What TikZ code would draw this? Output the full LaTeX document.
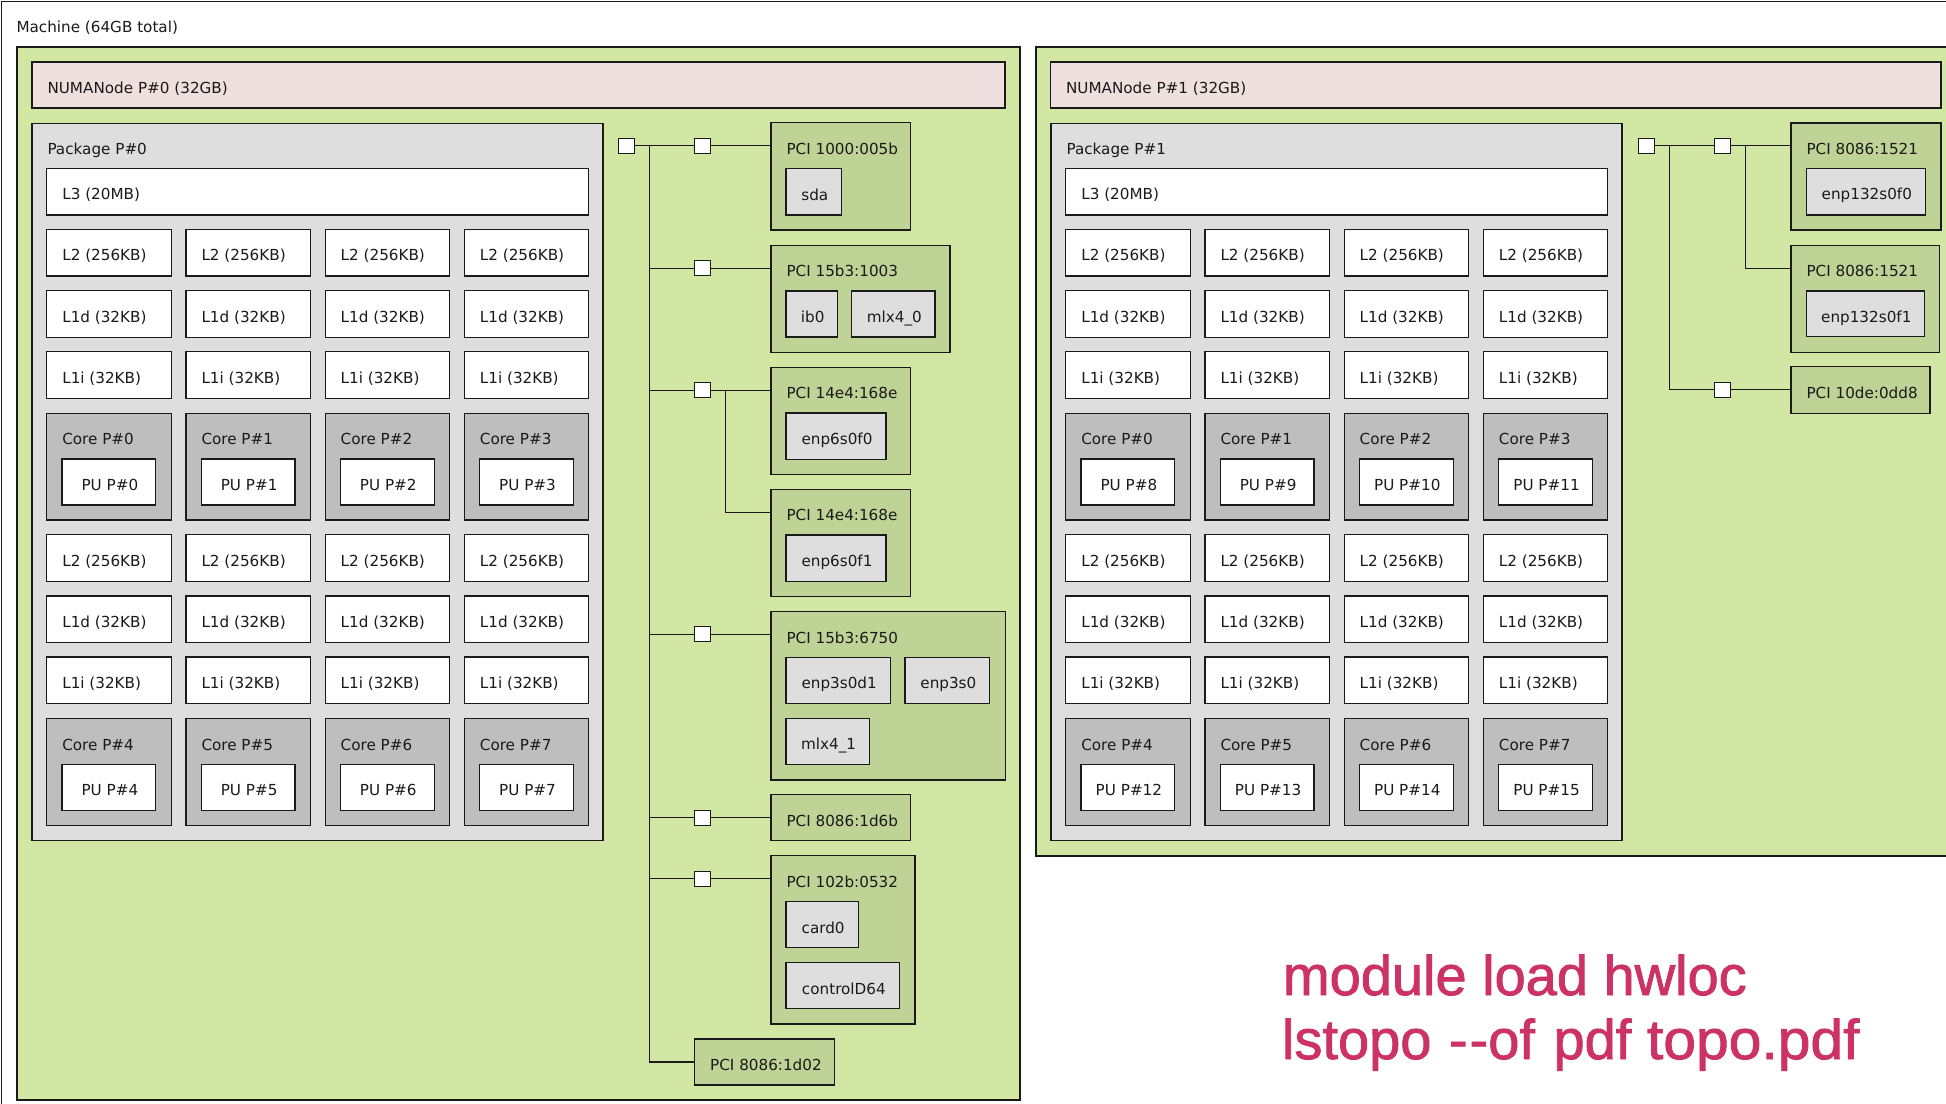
\documentclass[tikz,border=0pt]{standalone}
\usepackage{fontspec}
\usepackage{graphicx}
\setmainfont{DejaVu Sans}
\newfontfamily\cmdfont{Liberation Sans}[FakeBold=1.5]
\usetikzlibrary{calc}

\definecolor{numagreen}{HTML}{D2E7A4}
\definecolor{mempink}{HTML}{EFDFDE}
\definecolor{pkggray}{HTML}{DEDEDE}
\definecolor{coregray}{HTML}{BEBEBE}
\definecolor{pcigreen}{HTML}{BED395}
\definecolor{osgray}{HTML}{DEDEDE}
\definecolor{cmdred}{RGB}{204,51,100}
\definecolor{inkline}{HTML}{1A1A1A}

\tikzset{
  hw/.style={draw=inkline, line width=1.3pt, inner sep=0pt, outer sep=0pt, anchor=north west},
  machinebox/.style={hw, fill=white, line width=1pt},
  numabox/.style={hw, fill=numagreen},
  membox/.style={hw, fill=mempink},
  pkgbox/.style={hw, fill=pkggray},
  cachebox/.style={hw, fill=white},
  corebox/.style={hw, fill=coregray},
  pubox/.style={hw, fill=white},
  pcibox/.style={hw, fill=pcigreen},
  osbox/.style={hw, fill=osgray},
  bridgebox/.style={hw, fill=white, anchor=center, minimum width=16pt, minimum height=15pt},
  lbl/.style={inner sep=0pt, outer sep=0pt, font=\fontsize{15.2}{18}\selectfont, text=inkline},
  wire/.style={draw=inkline, line width=1.3pt},
  cmd/.style={inner sep=0pt, outer sep=0pt, anchor=base west, text=cmdred,
    font=\cmdfont\fontsize{56}{64}\selectfont},
}

% box with a left-aligned title: name, style, x1, y1, x2, y2, text
\newcommand\hwbox[7]{%
  \node[#2, minimum width={((#5)-(#3))*1pt}, minimum height={((#6)-(#4))*1pt}] (#1) at (#3,#4) {};
  \node[lbl, anchor=base west] (#1-t) at ($(#1.north west)+(15.5,31.5)$) {#7};
}
% box with a centred title
\newcommand\hwboxc[7]{%
  \node[#2, minimum width={((#5)-(#3))*1pt}, minimum height={((#6)-(#4))*1pt}] (#1) at (#3,#4) {};
  \node[lbl, anchor=base] (#1-t) at ($(#1.north)+(1,31.5)$) {#7};
}
% box without a title
\newcommand\hwplain[6]{%
  \node[#2, minimum width={((#5)-(#3))*1pt}, minimum height={((#6)-(#4))*1pt}] (#1) at (#3,#4) {};
}

\begin{document}
\begin{tikzpicture}[x=1pt,y=-1pt]
\useasboundingbox (0,0) rectangle (1946,1103);
\clip (0,0) rectangle (1946,1103);
\fill[white] (0,0) rectangle (1946,1103);

% machine and its two NUMA groups
\hwbox{machine}{machinebox}{1}{1}{2100}{1200}{Machine (64GB total)}
\hwplain{numa0}{numabox}{17}{47}{1020}{1100}
\hwplain{numa1}{numabox}{1036}{47}{1980}{856}
\hwbox{mem0}{membox}{32}{62}{1005}{108}{NUMANode P\#0 (32GB)}
\hwbox{mem1}{membox}{1050.5}{62}{1941}{108}{NUMANode P\#1 (32GB)}

% packages, caches, cores and PUs
\foreach \p in {0,1} {
  \pgfmathsetmacro\dx{1019*\p}
  \pgfmathsetmacro\pl{32+\dx}
  \pgfmathsetmacro\pr{603+\dx}
  \hwbox{pkg\p}{pkgbox}{\pl}{123.3}{\pr}{840.5}{Package P\#\p}
  \pgfmathsetmacro\ll{46.8+\dx}
  \pgfmathsetmacro\lr{588.7+\dx}
  \hwbox{l3-\p}{cachebox}{\ll}{168.3}{\lr}{215}{L3 (20MB)}
  \foreach \g in {0,1} {
    \pgfmathsetmacro\gy{229.3+305.3*\g}
    \pgfmathsetmacro\gya{\gy+46.7}
    \pgfmathsetmacro\gyb{\gy+61.3}
    \pgfmathsetmacro\gyc{\gy+108}
    \pgfmathsetmacro\gyd{\gy+122.5}
    \pgfmathsetmacro\gye{\gy+169.2}
    \pgfmathsetmacro\gyf{\gy+184}
    \pgfmathsetmacro\gyg{\gy+290.7}
    \pgfmathsetmacro\gyh{\gy+229.7}
    \pgfmathsetmacro\gyi{\gy+275.7}
    \foreach \i in {0,...,3} {
      \pgfmathsetmacro\cx{46.8+139.2*\i+\dx}
      \pgfmathsetmacro\cr{\cx+124.4}
      \pgfmathsetmacro\ux{\cx+15.2}
      \pgfmathsetmacro\ur{\cx+109}
      \pgfmathtruncatemacro\cn{4*\g+\i}
      \pgfmathtruncatemacro\pn{8*\p+4*\g+\i}
      \hwbox{l2-\p-\g-\i}{cachebox}{\cx}{\gy}{\cr}{\gya}{L2 (256KB)}
      \hwbox{l1d-\p-\g-\i}{cachebox}{\cx}{\gyb}{\cr}{\gyc}{L1d (32KB)}
      \hwbox{l1i-\p-\g-\i}{cachebox}{\cx}{\gyd}{\cr}{\gye}{L1i (32KB)}
      \hwbox{core-\p-\g-\i}{corebox}{\cx}{\gyf}{\cr}{\gyg}{Core P\#\cn}
      \hwboxc{pu-\p-\g-\i}{pubox}{\ux}{\gyh}{\ur}{\gyi}{PU P\#\pn}
    }
  }
}

% I/O tree of NUMA group 0
\hwbox{p1}{pcibox}{771}{122.7}{910.3}{230}{PCI 1000:005b}
\hwboxc{sda}{osbox}{786}{168.7}{841.7}{215}{sda}
\hwbox{p2}{pcibox}{771}{245.3}{950}{352.3}{PCI 15b3:1003}
\hwboxc{ib0}{osbox}{786}{291}{837.3}{337}{ib0}
\hwboxc{mlx40}{osbox}{851.7}{291}{935}{337}{mlx4\_0}
\hwbox{p3}{pcibox}{771}{367.3}{910.3}{474.3}{PCI 14e4:168e}
\hwboxc{eth0}{osbox}{786}{413}{886}{459.3}{enp6s0f0}
\hwbox{p4}{pcibox}{771}{489.3}{910.3}{596.7}{PCI 14e4:168e}
\hwboxc{eth1}{osbox}{786}{535}{886}{581.3}{enp6s0f1}
\hwbox{p5}{pcibox}{771}{611.7}{1005.3}{780}{PCI 15b3:6750}
\hwboxc{eth2}{osbox}{786}{657.3}{890.3}{703.3}{enp3s0d1}
\hwboxc{eth3}{osbox}{905}{657.3}{989.7}{703.3}{enp3s0}
\hwboxc{mlx41}{osbox}{786}{718.3}{869.3}{764.3}{mlx4\_1}
\hwbox{p6}{pcibox}{771}{794.7}{910.3}{840.7}{PCI 8086:1d6b}
\hwbox{p7}{pcibox}{771}{855.7}{915}{1024}{PCI 102b:0532}
\hwboxc{card0}{osbox}{786}{901.7}{858.3}{947.7}{card0}
\hwboxc{ctl}{osbox}{786}{962.7}{899.7}{1008.7}{controlD64}
\hwbox{p8}{pcibox}{694.7}{1039}{834.3}{1085}{PCI 8086:1d02}

\node[bridgebox] (host0) at (626.3,145.7) {};
\foreach \k/\yy in {1/145.7,2/268.3,3/390.3,5/634.3,6/817.7,7/878.7}
  \node[bridgebox] (b\k) at (702.5,\yy) {};
\coordinate (bus0) at (649.3,145.7);
\coordinate (sub0) at (725.7,390.3);
\coordinate (p4in) at ($(p4.north west)+(0,23)$);

\draw[wire] (host0.east) -- (b1.west);
\draw[wire] (bus0) -- (bus0 |- p8.west) -- (p8.west);
\foreach \k in {2,3,5,6,7}
  \draw[wire] (bus0 |- b\k.west) -- (b\k.west);
\foreach \k in {1,2,3,5,6,7}
  \draw[wire] (b\k.east) -- (b\k.east -| p\k.west);
\draw[wire] (sub0) |- (p4in);

% I/O tree of NUMA group 1
\hwbox{q1}{pcibox}{1791}{123}{1941}{230}{PCI 8086:1521}
\hwboxc{eth4}{osbox}{1806.3}{168.3}{1925.4}{215}{enp132s0f0}
\hwbox{q2}{pcibox}{1791}{245.3}{1939.5}{352.3}{PCI 8086:1521}
\hwboxc{eth5}{osbox}{1806.3}{291}{1924.3}{336.7}{enp132s0f1}
\hwbox{q3}{pcibox}{1791}{366.7}{1930}{413.3}{PCI 10de:0dd8}

\node[bridgebox] (host1) at (1646.2,145.7) {};
\node[bridgebox] (r1) at (1722.5,145.7) {};
\node[bridgebox] (r3) at (1722.5,389.7) {};
\coordinate (bus1) at (1669.6,145.7);
\coordinate (sub1) at (1745.5,145.7);
\coordinate (q2in) at ($(q2.north west)+(0,23)$);

\draw[wire] (host1.east) -- (r1.west);
\draw[wire] (bus1) |- (r3.west);
\draw[wire] (r1.east) -- (r1.east -| q1.west);
\draw[wire] (sub1) |- (q2in);
\draw[wire] (r3.east) -- (r3.east -| q3.west);

% command lines
\node[cmd] (cmd1) at (1283,995) {module load hwloc};
\node[cmd] (cmd2) at (1282,1059) {lstopo\hspace{2pt} -\kern2pt-of\hspace{3pt} pdf \scalebox{1.05}[1]{topo.pdf}};
\end{tikzpicture}
\end{document}
